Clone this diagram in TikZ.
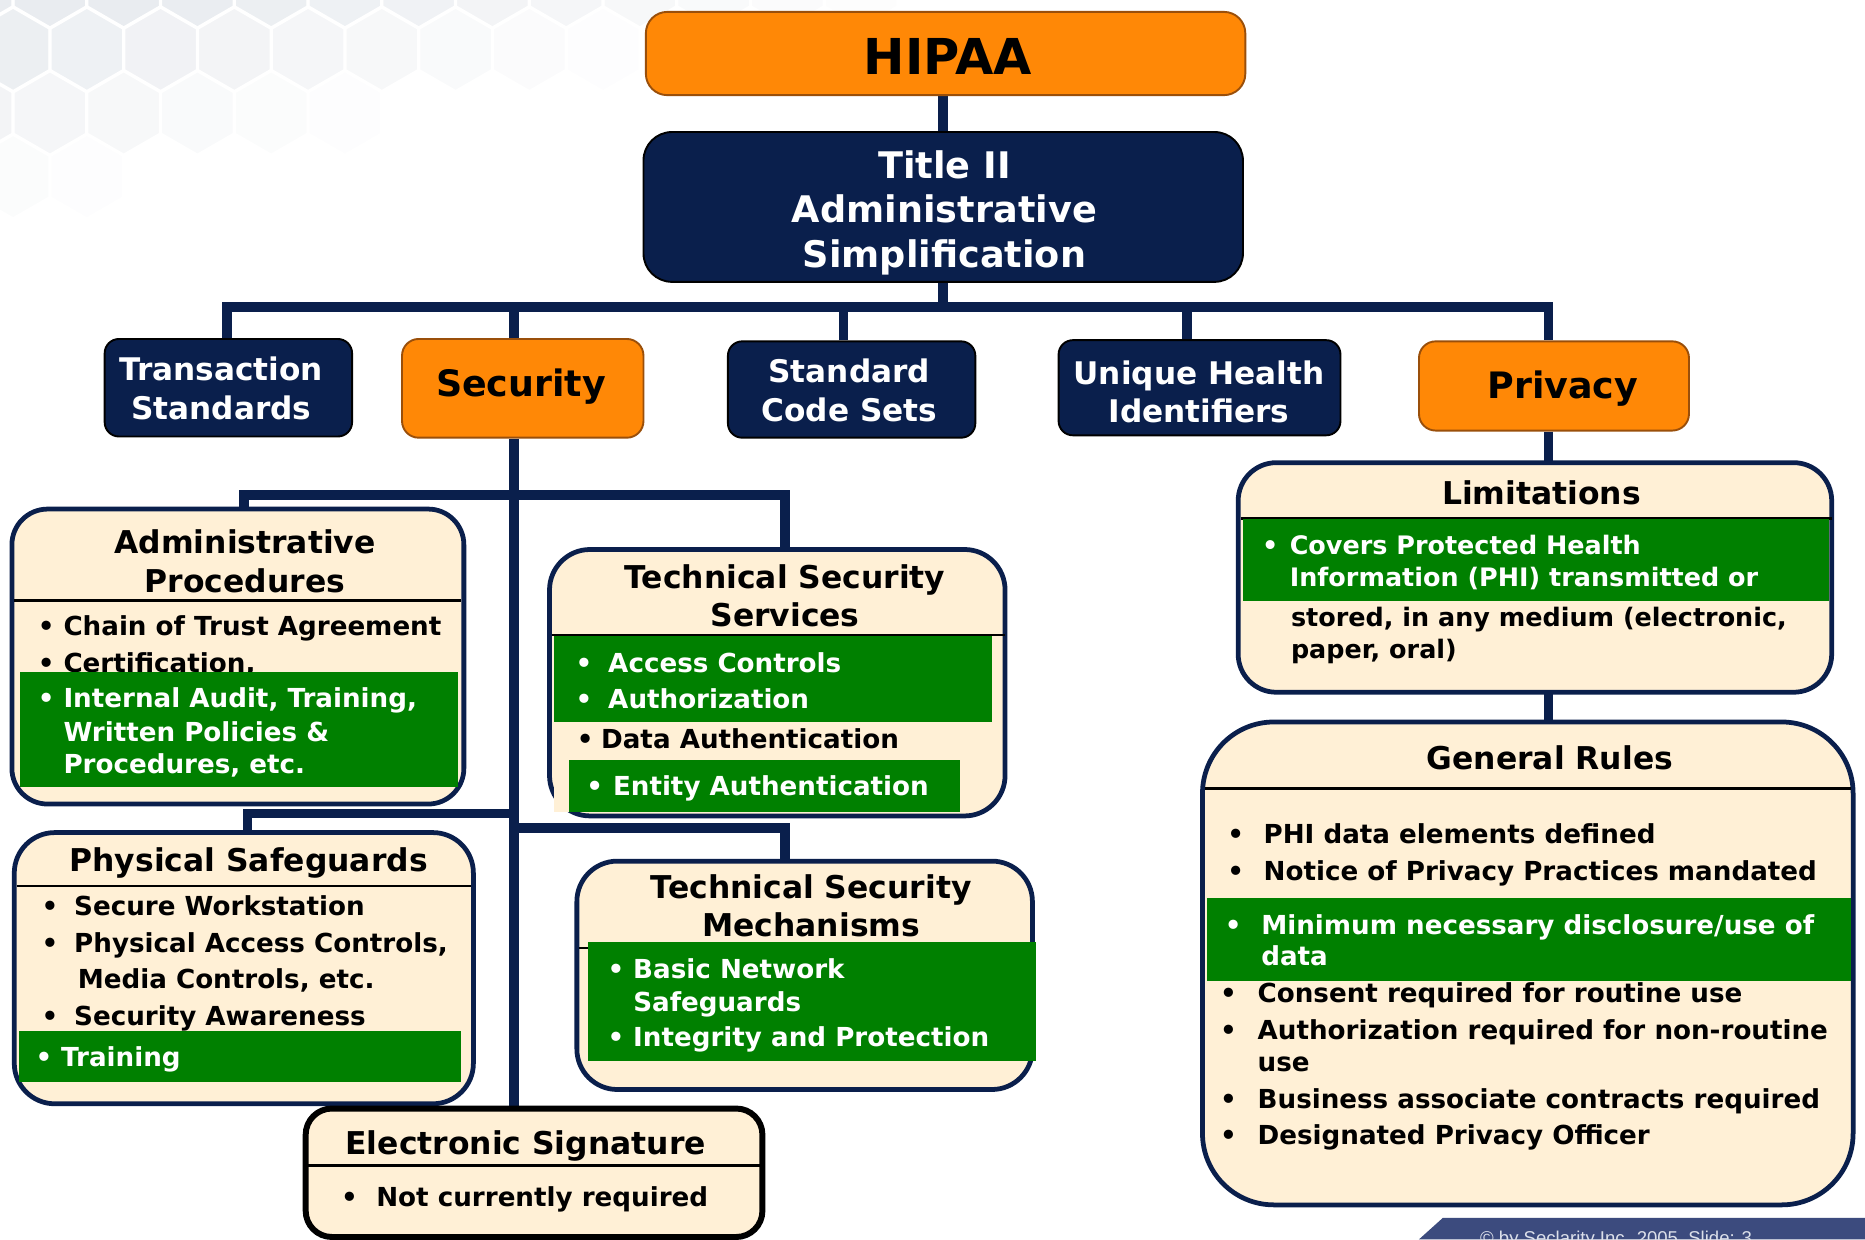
\documentclass[tikz,border=0pt]{standalone}
\usepackage{fontspec}
\setmainfont{DejaVu Sans}
\newfontfamily\vb{DejaVu Sans Bold}
\newfontfamily\ft{Liberation Sans}
\usetikzlibrary{fit,calc}
\definecolor{navy}{HTML}{0A1F4C}
\definecolor{hipaaorange}{HTML}{FF8806}
\definecolor{orgedge}{HTML}{9A4F0A}
\definecolor{cream}{HTML}{FFF0D6}
\definecolor{leaf}{HTML}{008000}
\definecolor{hexgray}{HTML}{E9ECF0}
\definecolor{footblue}{HTML}{3C4B7E}
\definecolor{footgray}{HTML}{DCE0EA}
\pgfdeclarelayer{deco}
\pgfdeclarelayer{wires}
\pgfsetlayers{deco,wires,main}
\newcommand{\mybul}[2]{\makebox[#1][l]{\textbullet}#2}
\tikzset{
  navybox/.style={fill=navy, draw=black, line width=0.8pt, rounded corners=6pt, inner sep=0pt},
  orgbox/.style={fill=hipaaorange, draw=orgedge, line width=0.8pt, rounded corners=7pt, inner sep=0pt},
  card/.style={fill=cream, draw=navy, line width=2pt, inner sep=0pt},
  grn/.style={fill=leaf, draw=none, inner sep=0pt},
  conn/.style={draw=navy, line width=4pt},
  sepline/.style={draw=black, line width=1pt},
  ttl/.style={font=\vb\fontsize{13.2}{16}\selectfont, anchor=base, inner sep=0pt},
  itm/.style={font=\vb\fontsize{11}{13}\selectfont, anchor=base west, inner sep=0pt},
  witm/.style={itm, text=white},
  top/.style={font=\vb\fontsize{13.1}{16}\selectfont, anchor=base, inner sep=0pt, text=white},
}
\begin{document}
\begin{tikzpicture}[x=0.5pt,y=-0.5pt]
\useasboundingbox (0,0) rectangle (1568,1042);

% background: white, hexagon pattern, footer band
\begin{pgfonlayer}{deco}
\fill[white] (0,0) rectangle (1568,1042);
\begin{scope}
\clip (0,0) rectangle (1568,1042);
\foreach \i in {0,...,14}{
  \foreach \j in {0,...,5}{
    \pgfmathsetmacro{\cx}{\i*62+mod(\j,2)*31-20}
    \pgfmathsetmacro{\cy}{\j*53.5-12}
    \pgfmathsetmacro{\op}{max(0,min(1,1.1-1.25*(\cx/820+\cy/200)))}
    \fill[hexgray, fill opacity=\op] (\cx,\cy) +(30:36) -- +(90:36) -- +(150:36) -- +(210:36) -- +(270:36) -- +(330:36) -- cycle;
  }}
\foreach \i in {0,...,14}{
  \foreach \j in {0,...,5}{
    \pgfmathsetmacro{\cx}{\i*62+mod(\j,2)*31-20}
    \pgfmathsetmacro{\cy}{\j*53.5-12}
    \draw[white, line width=1.2pt] (\cx,\cy) +(30:36) -- +(90:36) -- +(150:36) -- +(210:36) -- +(270:36) -- +(330:36) -- cycle;
  }}
\fill[footblue] (1193,1042) -- (1213,1024) -- (1568,1024) -- (1568,1042) -- cycle;
\node[font=\ft\fontsize{7.8}{9}\selectfont, text=footgray, anchor=base west, inner sep=0pt] (foot) at (1244,1046) {© by Seclarity Inc. 2005, Slide: 3};
\end{scope}
\end{pgfonlayer}

% ---------- top level ----------
\node[orgbox, rounded corners=9pt, fit={(543,10) (1047,80)}] (hipaa) {};
\node[font=\vb\fontsize{20.8}{24}\selectfont, anchor=base, inner sep=0pt] (hipaaT) at (797,63) {HIPAA};

\node[navybox, rounded corners=12pt, fit={(541,111) (1045,237)}] (title) {};
\node[top, font=\vb\fontsize{15.4}{18}\selectfont] (titleA) at (794,150) {Title II};
\node[top, font=\vb\fontsize{15.4}{18}\selectfont] (titleB) at (794,187) {Administrative};
\node[top, font=\vb\fontsize{15.4}{18}\selectfont] (titleC) at (794,225) {Simplification};

\node[navybox, fit={(88,285) (296,367)}] (trans) {};
\node[top] (transA) at (186,320) {Transaction};
\node[top] (transB) at (186,353) {Standards};

\node[orgbox, fit={(338,285) (541,368)}] (sec) {};
\node[font=\vb\fontsize{15.3}{18}\selectfont, anchor=base, inner sep=0pt] (secT) at (438,333) {Security};

\node[navybox, fit={(612,287) (820,368)}] (std) {};
\node[top] (stdA) at (714,322) {Standard};
\node[top] (stdB) at (714,354) {Code Sets};

\node[navybox, fit={(890,286) (1127,366)}] (uhi) {};
\node[top] (uhiA) at (1008,323) {Unique Health};
\node[top] (uhiB) at (1008,355) {Identifiers};

\node[orgbox, fit={(1193,287) (1420,362)}] (priv) {};
\node[font=\vb\fontsize{15.3}{18}\selectfont, anchor=base, inner sep=0pt] (privT) at (1314,335) {Privacy};

% ---------- Administrative Procedures ----------
\node[card, rounded corners=15pt, fit={(10,428) (390,676)}] (adm) {};
\node[ttl] (admA) at (206,465) {Administrative};
\node[ttl] (admB) at (206,498) {Procedures};
\draw[sepline] (12,505) -- (388,505);
\node[itm] (adm1) at (31.5,534) {\mybul{10.75pt}{Chain of Trust Agreement}};
\node[itm] (adm2) at (31.5,565) {\mybul{10.75pt}{Certification,}};
\node[grn, fit={(17,565) (385,662)}] (admG) {};
\node[witm] (adm3) at (31.5,595) {\mybul{10.75pt}{Internal Audit, Training,}};
\node[witm] (adm4) at (53,623) {Written Policies \&};
\node[witm] (adm5) at (53,650) {Procedures, etc.};

% ---------- Technical Security Services ----------
\node[card, rounded corners=17pt, fit={(462,462) (845,686)}] (tss) {};
\node[ttl] (tssA) at (660,495) {Technical Security};
\node[ttl] (tssB) at (660,527) {Services};
\draw[sepline] (464,534) -- (845,534);
\node[grn, fit={(466,535) (834,607)}] (tssG1) {};
\node[witm] (tss1) at (483.5,565) {\mybul{13.75pt}{Access Controls}};
\node[witm] (tss2) at (483.5,596) {\mybul{13.75pt}{Authorization}};
\node[itm] (tss3) at (484.5,629) {\mybul{10.25pt}{Data Authentication}};
\fill[cream] (466,639) rectangle (478,683);
\node[grn, fit={(478,639) (807,683)}] (tssG2) {};
\node[witm] (tss4) at (492.5,669) {\mybul{11.25pt}{Entity Authentication}};

% ---------- Physical Safeguards ----------
\node[card, rounded corners=17pt, fit={(12,700) (398,928)}] (phys) {};
\node[ttl] (physA) at (209,733) {Physical Safeguards};
\draw[sepline] (14,745) -- (396,745);
\node[itm] (phys1) at (34.5,770) {\mybul{13.75pt}{Secure Workstation}};
\node[itm] (phys2) at (34.5,801) {\mybul{13.75pt}{Physical Access Controls,}};
\node[itm] (phys3) at (65,831) {Media Controls, etc.};
\node[itm] (phys4) at (34.5,862) {\mybul{13.75pt}{Security Awareness}};
\node[grn, fit={(16,867) (388,910)}] (physG) {};
\node[witm] (phys5) at (29.5,897) {\mybul{10.75pt}{Training}};

% ---------- Technical Security Mechanisms ----------
\node[card, rounded corners=17pt, fit={(485,724) (868,916)}] (tsm) {};
\node[ttl] (tsmA) at (682,755) {Technical Security};
\node[ttl] (tsmB) at (682,787) {Mechanisms};
\draw[sepline] (487,797) -- (866,797);
\node[grn, fit={(494,792) (871,892)}] (tsmG) {};
\node[witm] (tsm1) at (510.5,823) {\mybul{10.75pt}{Basic Network}};
\node[witm] (tsm2) at (532,850) {Safeguards};
\node[witm] (tsm3) at (510.5,880) {\mybul{10.75pt}{Integrity and Protection}};

% ---------- Electronic Signature ----------
\node[card, draw=black, line width=2.5pt, rounded corners=11pt, fit={(257,932) (641,1040)}] (es) {};
\node[ttl] (esA) at (442,971) {Electronic Signature};
\draw[sepline] (259,980) -- (639,980);
\node[itm] (es1) at (286.5,1014) {\mybul{14.75pt}{Not currently required}};

% ---------- Limitations ----------
\node[card, rounded corners=16pt, fit={(1041,389) (1540,582)}] (lim) {};
\node[ttl] (limA) at (1296,424) {Limitations};
\draw[sepline] (1043,436) -- (1540,436);
\node[grn, fit={(1045,436) (1538,505)}] (limG) {};
\node[witm, font=\vb\fontsize{10.7}{13}\selectfont] (lim1) at (1060.7,466) {\mybul{11.65pt}{Covers Protected Health}};
\node[witm, font=\vb\fontsize{10.7}{13}\selectfont] (lim2) at (1084,493) {Information (PHI) transmitted or};
\node[itm, font=\vb\fontsize{10.7}{13}\selectfont] (lim3) at (1085,527) {stored, in any medium (electronic,};
\node[itm, font=\vb\fontsize{10.7}{13}\selectfont] (lim4) at (1085,554) {paper, oral)};

% ---------- General Rules ----------
\node[card, rounded corners=30pt, fit={(1011,607) (1558,1013)}] (gen) {};
\node[ttl] (genA) at (1303,647) {General Rules};
\draw[sepline] (1013,663) -- (1556,663);
\node[itm] (gen1) at (1031.5,709) {\mybul{15.25pt}{PHI data elements defined}};
\node[itm] (gen2) at (1031.5,740) {\mybul{15.25pt}{Notice of Privacy Practices mandated}};
\node[grn, fit={(1015,755) (1556,825)}] (genG) {};
\node[witm] (gen3) at (1029.5,786) {\mybul{15.25pt}{Minimum necessary disclosure/use of}};
\node[witm] (gen4) at (1060,812) {data};
\node[itm] (gen5) at (1025.5,843) {\mybul{15.75pt}{Consent required for routine use}};
\node[itm] (gen6) at (1025.5,874) {\mybul{15.75pt}{Authorization required for non-routine}};
\node[itm] (gen7) at (1057,901) {use};
\node[itm] (gen8) at (1025.5,932) {\mybul{15.75pt}{Business associate contracts required}};
\node[itm] (gen9) at (1025.5,962) {\mybul{15.75pt}{Designated Privacy Officer}};

% ---------- connectors ----------
\begin{pgfonlayer}{wires}
\coordinate (bus) at (790,258);
\coordinate (transd) at ($(trans.north)+(-1,0)$);
\coordinate (secd) at ($(sec.north)+(-7.5,0)$);
\coordinate (stdd) at ($(std.north)+(-7,0)$);
\coordinate (uhid) at ($(uhi.north)+(-10.5,0)$);
\coordinate (privd) at ($(priv.north)+(-4.5,0)$);
\draw[conn] (title.north) -- (title.north |- hipaa.south);
\draw[conn] (title.south) -- (title.south |- bus);
\draw[conn] (transd) |- (bus) -| (privd);
\draw[conn] (secd) -- (secd |- bus);
\draw[conn] (stdd) -- (stdd |- bus);
\draw[conn] (uhid) -- (uhid |- bus);
% security subtree
\coordinate (sect) at ($(sec.south)+(-7.5,0)$);
\coordinate (b1) at (432,416);
\coordinate (b2l) at (432,684);
\coordinate (b2r) at (432,696);
\coordinate (admd) at ($(adm.north)+(5,0)$);
\coordinate (tssd) at ($(tss.north)+(6.5,0)$);
\coordinate (physd) at ($(phys.north)+(3,0)$);
\coordinate (tsmd) at ($(tsm.north)+(-16.5,0)$);
\draw[conn] (sect) -- (sect |- es.north);
\draw[conn] (admd) |- (b1) -| (tssd);
\draw[conn] (b2l) -| (physd);
\draw[conn] (b2r) -| (tsmd);
% privacy subtree
\coordinate (privs) at ($(priv.south)+(-4.5,0)$);
\draw[conn] (privs) -- (privs |- gen.north);
\end{pgfonlayer}
\end{tikzpicture}
\end{document}
